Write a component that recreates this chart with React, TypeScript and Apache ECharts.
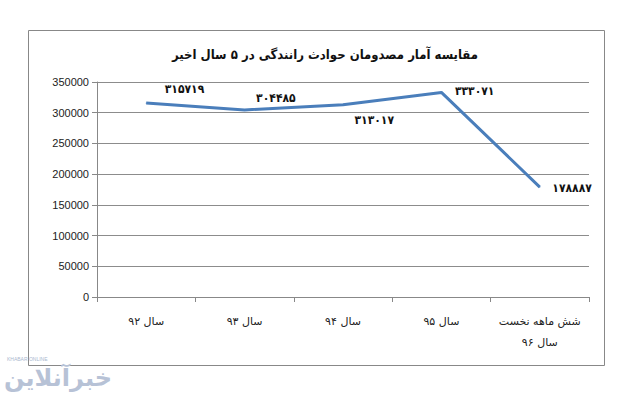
import React, { useEffect, useRef } from "react";
import * as echarts from "echarts";

const title = "مقایسه آمار مصدومان حوادث رانندگی در ۵ سال اخیر";
const categories = ["سال ۹۲", "سال ۹۳", "سال ۹۴", "سال ۹۵", "شش ماهه نخست\nسال ۹۶"];
const injured = [315719, 304485, 313017, 333071, 178887];
const yTicks = [0, 50000, 100000, 150000, 200000, 250000, 300000, 350000];

const labelPositions: [number, number][] = [
  [19, -14],
  [12, -11],
  [12, 16],
  [14, -1],
  [13, 1],
];

const toFa = (n: number) =>
  String(n).replace(/[0-9]/g, (d) => "۰۱۲۳۴۵۶۷۸۹"[Number(d)]);

export default function App() {
  const ref = useRef<HTMLDivElement>(null);
  useEffect(() => {
    if (!ref.current) return;
    const chart = echarts.init(ref.current, null, { renderer: "svg" });
    chart.setOption({
      animation: false,
      backgroundColor: "#ffffff",
      title: {
        text: title,
        left: 320,
        top: 43,
        textAlign: "center",
        textStyle: {
          fontFamily: "DejaVu Sans Condensed, DejaVu Sans",
          fontSize: 13,
          fontWeight: "bold",
          color: "#111",
        },
      },
      grid: { left: 97, right: 46, top: 82, bottom: 103 },
      xAxis: {
        type: "category",
        data: categories,
        boundaryGap: true,
        axisLine: { show: true, lineStyle: { color: "#888", width: 1 } },
        axisTick: { show: true, length: 5, lineStyle: { color: "#888" } },
        axisLabel: {
          margin: 14,
          fontFamily: "DejaVu Sans",
          fontSize: 11,
          color: "#222",
          lineHeight: 21,
          interval: 0,
        },
        splitLine: { show: false },
      },
      yAxis: {
        type: "value",
        min: 0,
        max: 350000,
        interval: 50000,
        axisLine: { show: true, lineStyle: { color: "#888", width: 1 } },
        axisTick: { show: true, length: 5, lineStyle: { color: "#888" } },
        axisLabel: {
          margin: 8,
          fontFamily: "Liberation Sans",
          fontSize: 11,
          color: "#222",
          formatter: (v: number) => (yTicks.includes(v) ? String(v) : ""),
        },
        splitLine: { show: true, lineStyle: { color: "#8c8c8c", width: 1 } },
      },
      series: [
        {
          type: "line",
          data: injured.map((v, i) => ({
            value: v,
            label: { position: labelPositions[i] },
          })),
          symbol: "circle",
          symbolSize: 1,
          showSymbol: true,
          showAllSymbol: true,
          lineStyle: { color: "#4a7ebb", width: 3 },
          itemStyle: { color: "#4a7ebb", borderWidth: 0 },
          label: {
            show: true,
            align: "left",
            verticalAlign: "middle",
            fontFamily: "DejaVu Sans Condensed, DejaVu Sans",
            fontSize: 12,
            fontWeight: "bold",
            color: "#111",
            formatter: (p: any) => toFa(p.value),
          },
          labelLayout: { hideOverlap: false },
        },
      ],
      graphic: [
        {
          type: "rect",
          shape: { x: 28.5, y: 30.5, width: 576, height: 335 },
          style: { fill: "none", stroke: "#888", lineWidth: 1 },
          silent: true,
        },
        {
          type: "text",
          x: 7,
          y: 356,
          style: {
            text: "KHABAR ONLINE",
            fontFamily: "Liberation Sans",
            fontSize: 5,
            fill: "#aab8cf",
          },
        },
        {
          type: "text",
          x: 4,
          y: 366,
          style: {
            text: "خبرآنلاین",
            fontFamily: "DejaVu Sans",
            fontSize: 24,
            fontWeight: "bold",
            fill: "#b7c2d6",
          },
        },
      ],
    });
    return () => chart.dispose();
  }, []);
  return (
    <div
      ref={ref}
      style={{ width: 635, height: 400, position: "absolute", left: 0, top: 0 }}
    />
  );
}
